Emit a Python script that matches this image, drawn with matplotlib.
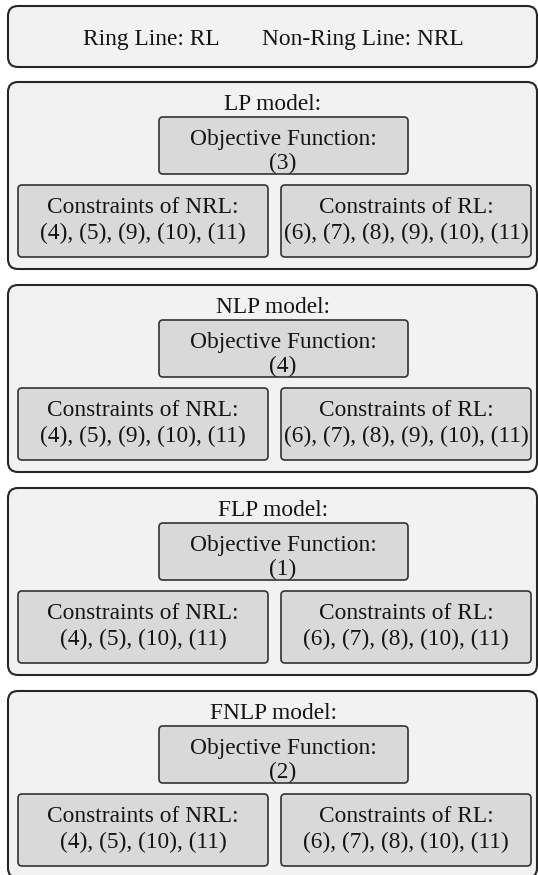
import matplotlib.pyplot as plt
from matplotlib.patches import FancyBboxPatch

plt.rcParams['font.family'] = ['Liberation Serif', 'DejaVu Serif']

# 数据
legend_items = ["Ring Line: RL", "Non-Ring Line: NRL"]
models = ["LP", "NLP", "FLP", "FNLP"]
objectives = ["(3)", "(4)", "(1)", "(2)"]
nrl_constraints = ["(4), (5), (9), (10), (11)",
                   "(4), (5), (9), (10), (11)",
                   "(4), (5), (10), (11)",
                   "(4), (5), (10), (11)"]
rl_constraints = ["(6), (7), (8), (9), (10), (11)",
                  "(6), (7), (8), (9), (10), (11)",
                  "(6), (7), (8), (10), (11)",
                  "(6), (7), (8), (10), (11)"]

W, H = 538, 875
fig = plt.figure(figsize=(W / 100, H / 100), dpi=100)
ax = fig.add_axes([0, 0, 1, 1])
ax.set_xlim(0, W)
ax.set_ylim(H, 0)
ax.axis('off')

FS = 16.8
outer_fc, outer_ec = '#f2f2f2', '#262626'
inner_fc, inner_ec = '#d9d9d9', '#333333'


def box(x0, y0, x1, y1, fc, ec, lw, r):
    p = FancyBboxPatch((x0, y0), x1 - x0, y1 - y0,
                       boxstyle="round,pad=0,rounding_size=%g" % r,
                       fc=fc, ec=ec, lw=lw)
    ax.add_patch(p)


def txt(x, y, s):
    ax.text(x, y, s, ha='center', va='baseline', fontsize=FS, color='#141414')


# 顶部说明框
box(8, 6, 537, 67, outer_fc, outer_ec, 1.5, 10)
txt(151, 45, legend_items[0])
txt(363, 45, legend_items[1])

# 各模型
for i, m in enumerate(models):
    top = 82 + i * 203
    box(8, top, 537, top + 187, outer_fc, outer_ec, 1.5, 10)
    txt(273, top + 28, m + " model:")

    box(159, top + 35, 408, top + 92, inner_fc, inner_ec, 1.2, 4)
    txt(283, top + 63, "Objective Function:")
    txt(283, top + 87, objectives[i])

    box(18, top + 103, 268, top + 175, inner_fc, inner_ec, 1.2, 4)
    txt(143, top + 131, "Constraints of NRL:")
    txt(143, top + 157, nrl_constraints[i])

    box(281, top + 103, 531, top + 175, inner_fc, inner_ec, 1.2, 4)
    txt(406, top + 131, "Constraints of RL:")
    txt(406, top + 157, rl_constraints[i])

fig.savefig('out.png', dpi=100, facecolor='white')
